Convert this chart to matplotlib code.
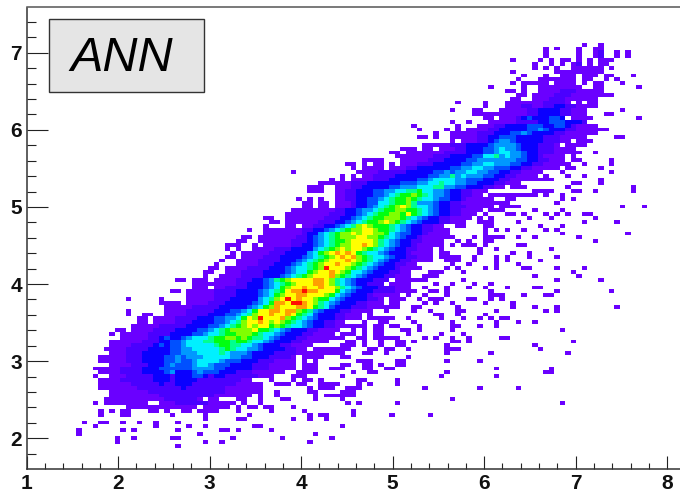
import numpy as np
import matplotlib
matplotlib.use("Agg")
import matplotlib.pyplot as plt
from matplotlib.colors import ListedColormap, BoundaryNorm
from matplotlib.patches import Rectangle

# bins of the 2D histogram
x_start = 1.484
x_step = 0.06
y_top = 7.58
y_step = 0.05
first_row = 9
n_cols = 112

# one string per row, "column:levels", levels are hex counts, . = empty
row_runs = [
    "93:1 96:1",
    "86:1 88:1 92:1 95:11",
    "86:1 92:1 95:12 99:1 101:1",
    "86:1 92:1 95:12 99:1 101:1",
    "80:1 85:1 87:1 89:11 92:1 94:1 96:111",
    "84:1 87:1 89:1 91:12 94:1 96:11",
    "84:1 86:1 88:1 91:111111 98:1",
    "80:1 88:111 91:111111",
    "82:1 86:1 89:111 93:111 97:11 102:1",
    "81:1 85:1111 89:111 93:11 97:1 99:1",
    "80:1 82:11111 88:1111 93:1 95:11 100:1",
    "76:1 82:1 85:1111111 92:1 95:11 103:1",
    "79:11 82:1 85:11112221111 93:1111",
    "81:11 84:111122211111 93:1111 97:11",
    "80:11 84:1112221111 93:111",
    "70:1 75:1 79:111111122221 92:1.11",
    "75:1 79:11122112233221111",
    "69:1 73:11 78:1111122333322111 100:1",
    "73:11111 78:1111122333322111 97:11",
    "75:11 78:111234333443.111 94:1 103:1",
    "69:1 72:1 76:111112222334443332",
    "62:1 70:1 74:1112233334443344321111",
    "63:1 68:1 70:1 72:111122333334454333221111 96:11",
    "66:1 69:1111122233344543333 88:2211 92:1111",
    "63:11 66:1 69:1111122334443333322211 91:111 99:11",
    "69:1.11122345543333322211.111",
    "64:1111122233334555543332221 90:1111",
    "60:111 64:11.1112233344565543332221111",
    "58:11 61:111111122223334456655433222 88:11111 95:1",
    "59:11 61:111112223333446675655433221 86:1111 91:1",
    "53:1111 60:11111222333344565 75:55 77:5 78:5 79:554 82:4332 86:2111 91:11 98:1",
    "50:11 53:1 55:11 58:1 60:1112223333344 73:55665 78:554 81:4332 85:211111 93:1 98:1",
    "51:1 53:1111 58:11122333333 69:4455 73:6655 77:444 80:3322 84:11111 90:11 96:1",
    "40:1 52:1111222223333 65:344 68:5455 72:665 75:544 78:3322 82:1111 89:1 98:1",
    "49:1 51:1 53:112222333333 65:445 68:57565 73:554 76:4332 80:21111 86:1 90:1 93:1",
    "47:1 49:1 51:11 53:112223 59:3333 63:445 66:666 69:6554 73:4433 77:3221 81:1111111 96:1",
    "45:11 47:111122 53:233333 59:3444 63:5566 67:766 70:5544 74:3332 78:2111 91:11 96:1",
    "43:111 48:111 51:2233 55:333445 61:556 64:6677 68:55 70:4433 74:32211 80:111 90:1 102:1",
    "43:111 48:1122333445566778665543322111 84:111 87:1 91:11 95:1 102:1",
    "48:112233344567889876554332211.111111111 86:1 89:1",
    "41:1 43:1 45:1 48:11223344567889876654433211111..11 89:1 91:1",
    "42:11 45:11 48:11123344667889755543322111111111 88:1",
    "42:11 45:11 48:111233456789a9766543322211111.111 81:1 100:1 104:1",
    "40:1111111122334556788998876543322 71:1111.111 84:1 89:1",
    "39:1111111122233456788998a876543322111 75:1 79:11 82:1 86:1 88:1 90:1 93:11",
    "35:11 39:1111111222334567889998765433221111 74:1.1 83:1 87:1 95:1",
    "36:11 39:111111222334567889a98765433322111 74:111 81:1 93:1 99:1",
    "35:1 39:11.11223345679a98887654332211 70:11 75:11 85:1 89:1",
    "32:1 35:111111122334567899aa98876543322111 75:1.1 79:1 82:1 86:1 88:1",
    "35:1111111233567899a9aa99865443321111 75:1 89:1 101:1",
    "31:11 34:11 36:1111122345678999aa998765433211111 69:1 73:1 75:1111 81:1 84:1 92:1",
    "30:11 34:11111122234567889aaaa9765433221111 70:1.1 75:11 95:1",
    "28:111 33:1 35:1111122334567899aaba9765433211111 69:1 71:111 75:1 81:11",
    "28:1 30:1 33:1111222333356789a9aa9876543322111 67:1 74:1 77:1 87:1",
    "29:1 31:1111122233335689ababa87665433321111.11 74:1 80:1 83:1",
    "28:11 31:11112223333456789abab98766543322111.1111 73:1 77:1 79:1 83:1 88:1",
    "27:1 30:11112222333456789aaaba98765433221111 68:111 73:1 77:1 79:1 85:1",
    "26:1 30:1111222333456789aabaa987654332211 69:1 72:1 77:1 81:1",
    "25:11 28:111122223334566789caaa98765433321111 68:1 70:1 75:1 77:1 82:11 88:1 93:1",
    "24:11 28:111222233334566 43:89aaba9866543332211 65:111 71:1 91:1",
    "24:1 27:11112222333456 41:789aaab98765 53:433322111 64:111 84:1 92:1",
    "19:11 22:111.11112223345789aaaabba97654333222.111111 71:1 88:1 96:1",
    "22:111 25:1111122333456789aaabba976543322 56:2.1111 66:1 69:1 73:1 76:1",
    "22:111.1 27:1222233345689aabaabaa97654333222111 64:1 68:1 72:1 75:1 79:1 84:11",
    "18:11 21:111112222333345678abbcbbaaa865433322221111 62:1 65:11 68:1 76:1 88:1 98:1",
    "21:111112222333345689aabbaaa98654333211111 61:1 64:1 68:1 76:111 82:1 86:11",
    "10:1 16:1 21:11111222333335679acabaa9886543333221 58:111 63:1 65:111 72:11 76:1 78:1",
    "16:1111 21:1111222333334568bbaccba9765433322111 58:11 64:1 66:1 69:1 75:1 80:1",
    "17:11111222223333345689baaabba8764333222111111 62:11 70:1 80:1 84:1 88:1 99:1",
    "10:1 17:11112222233344568aabbabb9875433322111 54:1..1 62:1 65:1 70:11 77:1 86:1 88:1",
    "10:1 13:11 17:11112222333445679aabaaba876433322111 54:1 66:11 70:1 75:1",
    "12:11 15:11112222333445568a9caaab98765433322111 54:11111 61:1 67:1 71:1 74:1 76:1 78:11",
    "12:11 15:11112223333445679aaba9a987654332211 53:1 56:11 62:1 69:1 77:1 81:1 84:1",
    "11:111112222233334456789a9aa89876654332211111 53:1 55:11 58:11 63:1 69:11 74:1 77:1",
    "8:11 11:1111222233334456789999a887654333221111 51:1 53:1 55:11 60:11 63:1 69:1 89:1",
    "7:1 9:111112222333344566788999876654333221111 49:111 53:1 55:11 61:1 67:1 71:1",
    "9:11111223433456667889989877654333221111111 52:11 55:111 58:11 64:1 66:1 69:1 72:1 78:11",
    "7:11 9:11112223344566677888788766543332211111 50:11 53:1 56:1 59:11 62:1 69:11 72:1 91:1",
    "7:1111222234344566666788776654333221111 49:111 53:1 56:1 59:11 68:1 84:1",
    "6:1111222233334455666667876655433332211.1111111 49:11 54:11 57:11 61:1 68:111 85:1",
    "7:1112223333344555666676555433332222111111111 49:1 53:11 57:1 68:1 76:1 90:1",
    "5:111112223333445455566666554433322221.1111 49:11 61:1",
    "5:111112223333445445666654443332221111.1.1 52:111 59:11 68:1 74:1",
    "7:1111222333454445665444333322211111 42:111 49:11 53:11 56:1 59:11",
    "4:1 5:111122223334444445555443333322211111 42:111 47:111 53:11 57:11 77:1 87:1",
    "5:1111222233334533345444333222111111 41:111 44:1 51:1 54:11 68:1 86:11",
    "4:1 7:11122222333233344323322222211 36:1 40:111 49:1 67:1 77:1",
    "5:1111222222333233332222222211 36:1 40:1 42:11 45:1 52:11 59:1",
    "5:11111122222322333222222221 31:1111 37:111 41:11 45:1111 52:1 54:1 59:1",
    "5:11111112222222232222222111 31:1111 43:1 45:111 50:111 64:1 74:1 81:1",
    "7:1111111222222222222221111 32:11 34:1 37:1 43:11 49:111",
    "7:11111111122222222221111 29:1111 34:1 37:1 44:1 46:111 49:111",
    "6:1 7:11111111112222221 25:11 30:11 34:1 38:11 44:1 49:1 69:1",
    "4:1 6:11 8:111111 16:11122222211111 31:1 34:1 50:1 52:1 59:1 89:1",
    "10:1111 14:111111111 24:111 27:11 30:1 32:11 35:1 36:1 40:1",
    "5:1 7:1 9:11 14:11 17:1 20:11 23:1111 30:1 36:1 42:1 51:1",
    "5:1 9:11 18:1 24:1 32:1 43:1 45:11 51:1 58:1 65:1",
    "24:1 30:11 40:1 43:1 46:1",
    "2:1 5:11 9:1 12:1 15:1 19:1",
    "4:1 15:1 21:1 24:1 33:11 49:1",
    "1:1 9:1 11:1 19:1 27:11 30:1 36:1",
    "1:1 23:1 44:1",
    "8:1 11:1 18:1 19:1 29:1 38:1 47:1",
    "8:1 24:1 27:1 43:1",
    "19:1",
]

xtick_values = [1, 2, 3, 4, 5, 6, 7, 8]
ytick_values = [2, 3, 4, 5, 6, 7]
xminor_values = [1.2, 1.4, 1.6, 1.8, 2.2, 2.4, 2.6, 2.8, 3.2, 3.4, 3.6, 3.8, 4.2, 4.4, 4.6, 4.8,
                 5.2, 5.4, 5.6, 5.8, 6.2, 6.4, 6.6, 6.8, 7.2, 7.4, 7.6, 7.8]
yminor_values = [1.8, 2.2, 2.4, 2.6, 2.8, 3.2, 3.4, 3.6, 3.8, 4.2, 4.4, 4.6, 4.8,
                 5.2, 5.4, 5.6, 5.8, 6.2, 6.4, 6.6, 6.8, 7.2, 7.4]

palette = ["#6a00ff", "#4a00ff", "#0a00ff", "#0050ff", "#0098ff", "#00f0ff",
           "#00ff90", "#00ff10", "#80ff00", "#ffff00", "#ffa000", "#ff1000"]

counts = np.zeros((first_row + len(row_runs), n_cols))
for r, line in enumerate(row_runs):
    for part in line.split():
        col, levels = part.split(":")
        for k, ch in enumerate(levels):
            if ch != ".":
                counts[first_row + r, int(col) + k] = int(ch, 16)

x_edges = x_start + x_step * np.arange(n_cols + 1)
y_edges = y_top - y_step * np.arange(counts.shape[0] + 1)

plt.rcParams["font.family"] = ["Liberation Sans", "DejaVu Sans"]
fig = plt.figure(figsize=(6.8, 4.94), dpi=100)
W, H = 680, 494
ax = fig.add_axes([26.7 / W, 1 - 468.7 / H, (W - 26.7) / W, (468.7 - 7.5) / H])

ax.pcolormesh(x_edges, y_edges, np.ma.masked_equal(counts, 0),
              cmap=ListedColormap(palette),
              norm=BoundaryNorm(np.arange(0.5, 13.5), 12))
ax.set_xlim(1, 8.14)
ax.set_ylim(1.606, 7.586)

ax.spines["right"].set_visible(False)
for s in ["left", "bottom", "top"]:
    ax.spines[s].set_linewidth(1.1)
    ax.spines[s].set_color("#333333")
ax.spines["top"].set_color("#555555")

ax.set_xticks(xtick_values)
ax.set_yticks(ytick_values)
ax.set_xticks(xminor_values, minor=True)
ax.set_yticks(yminor_values, minor=True)
ax.tick_params(axis="x", which="major", direction="in", length=9.4, width=0.8, color="#222222", pad=3.5)
ax.tick_params(axis="x", which="minor", direction="in", length=4.5, width=0.8, color="#222222")
ax.tick_params(axis="y", which="major", direction="in", length=15, width=0.8, color="#222222", pad=3.5)
ax.tick_params(axis="y", which="minor", direction="in", length=6.5, width=0.8, color="#222222")
for lab in ax.get_xticklabels() + ax.get_yticklabels():
    lab.set_fontweight("bold")
    lab.set_fontsize(15)
    lab.set_color("#111111")

# label box
fig.add_artist(Rectangle((48.5 / W, 1 - 92 / H), 155 / W, 73 / H, transform=fig.transFigure,
                         facecolor="#e5e5e5", edgecolor="#333333", linewidth=1.0, zorder=5))
fig.text(122 / W, 1 - 71 / H, "ANN", fontsize=35, style="italic", ha="center", va="baseline",
         color="black", zorder=6)

fig.savefig("out.png", dpi=100)
